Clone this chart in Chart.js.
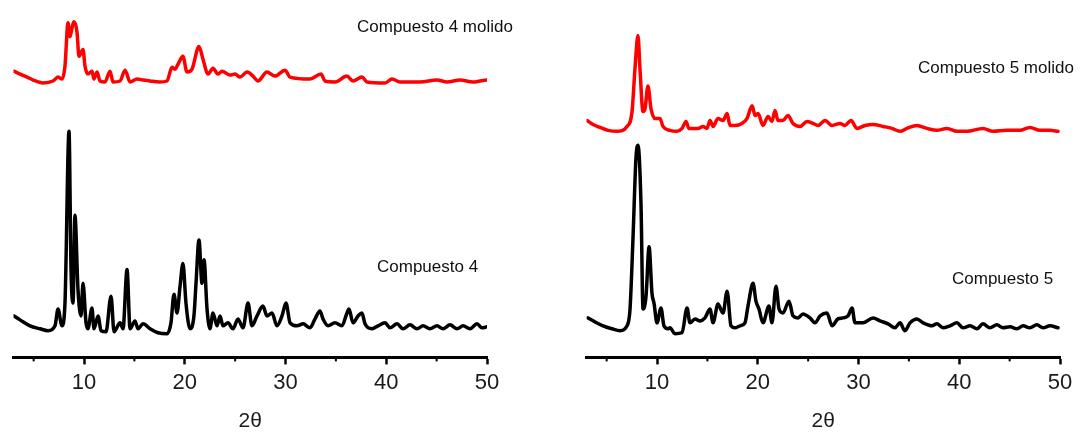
<!DOCTYPE html>
<html>
<head>
<meta charset="utf-8">
<script src="https://cdn.jsdelivr.net/npm/chart.js@4.4.0/dist/chart.umd.min.js"></script>
<style>
  html, body { margin: 0; padding: 0; background: #fff; }
  #wrap { position: relative; width: 1081px; height: 435px; overflow: hidden; }
  canvas { position: absolute; top: 0; }
  #left { left: 0; }
  #right { left: 560px; }
  .lbl { position: absolute; font-family: "Liberation Sans", Arial, sans-serif; font-size: 17px; line-height: 17px; color: #111; white-space: nowrap; }
</style>
</head>
<body>
<div id="wrap">
  <canvas id="left" width="540" height="435"></canvas>
  <canvas id="right" width="521" height="435"></canvas>
  <div class="lbl" style="left:357px; top:18px">Compuesto 4 molido</div>
  <div class="lbl" style="left:377px; top:258px">Compuesto 4</div>
  <div class="lbl" style="left:918px; top:59px">Compuesto 5 molido</div>
  <div class="lbl" style="left:952px; top:270px">Compuesto 5</div>
</div>
<script>
// 2-theta axis
const xMin = 3;
const xMax = 50;
const majorTicks = [10, 20, 30, 40, 50];
const minorTicks = [5, 15, 25, 35, 45];

// intensities are stacked (arbitrary units)

// Compuesto 4 molido (red)
const c4mTheta = [3.05, 3.65, 4.34, 4.94, 5.93, 6.92, 7.42, 7.81, 8.11, 8.41, 8.61, 8.81, 9.00, 9.30, 9.50, 9.90, 10.10, 10.39, 10.79, 10.99, 11.29, 11.59, 12.08, 12.58, 12.88, 13.58, 14.07, 14.57, 15.26, 15.86, 16.55, 17.54, 18.24, 18.73, 19.03, 19.33, 19.82, 20.22, 20.72, 21.41, 21.81, 22.31, 22.80, 23.30, 23.70, 24.49, 24.99, 25.48, 26.18, 26.77, 27.27, 28.16, 28.96, 29.95, 30.45, 32.43, 33.53, 33.92, 34.91, 36.10, 36.70, 37.59, 38.09, 39.88, 40.57, 41.37, 43.35, 45.04, 46.03, 47.32, 48.61, 49.31, 50.0];
const c4mInt = [290, 287, 284, 281, 278, 280, 284, 282, 295, 339, 325, 334, 340, 330, 305, 312, 295, 287, 290, 282, 289, 280, 279, 290, 279, 280, 291, 279, 282, 281, 280, 279, 280, 294, 292, 297, 305, 289, 292, 315, 302, 287, 293, 287, 290, 286, 287, 284, 289, 285, 280, 289, 285, 291, 284, 282, 287, 280, 279, 285, 280, 284, 279, 278, 282, 279, 279, 281, 279, 281, 279, 280, 281];

// Compuesto 4 (black)
const c4Theta = [3.05, 3.65, 4.64, 5.63, 6.42, 7.12, 7.42, 7.81, 8.11, 8.51, 8.71, 8.91, 9.10, 9.40, 9.70, 9.90, 10.20, 10.39, 10.79, 10.99, 11.39, 11.69, 12.18, 12.68, 12.98, 13.58, 13.87, 14.27, 14.57, 15.06, 15.36, 15.86, 16.55, 17.34, 18.24, 18.63, 18.93, 19.23, 19.53, 19.82, 20.12, 20.52, 20.91, 21.11, 21.41, 21.71, 21.91, 22.21, 22.50, 22.80, 23.20, 23.50, 23.79, 24.29, 24.79, 25.28, 25.78, 26.28, 26.67, 27.17, 27.76, 28.16, 28.66, 29.15, 29.65, 30.05, 30.45, 31.14, 31.74, 32.43, 32.93, 33.42, 33.72, 34.22, 34.91, 35.60, 36.10, 36.30, 36.70, 37.20, 37.59, 37.89, 38.59, 39.18, 39.88, 40.37, 41.07, 41.66, 42.36, 43.05, 43.65, 44.34, 45.04, 45.63, 46.33, 47.03, 47.62, 48.32, 49.01, 49.50, 50.0];
const c4Int = [42, 38, 32, 29, 27, 32, 49, 32, 55, 229, 89, 55, 144, 69, 42, 75, 35, 29, 50, 29, 42, 27, 26, 62, 26, 35, 29, 89, 29, 37, 29, 34, 29, 25, 24, 35, 64, 45, 72, 95, 55, 29, 42, 74, 119, 75, 99, 49, 29, 45, 32, 42, 32, 35, 29, 39, 30, 55, 32, 42, 52, 42, 45, 32, 42, 55, 35, 32, 34, 30, 39, 47, 39, 32, 35, 32, 45, 49, 35, 42, 45, 34, 29, 32, 35, 30, 34, 29, 33, 29, 32, 29, 32, 29, 33, 29, 32, 29, 34, 30, 31];

// Compuesto 5 molido (red)
const c5mTheta = [3.05, 3.65, 4.34, 5.13, 6.03, 7.02, 7.52, 7.81, 8.11, 8.31, 8.61, 8.81, 9.10, 9.40, 9.80, 10.29, 10.59, 11.29, 11.98, 12.48, 12.88, 13.17, 13.77, 14.07, 14.56, 14.96, 15.26, 15.56, 16.05, 16.55, 16.96, 17.24, 17.74, 18.43, 18.93, 19.44, 19.74, 20.03, 20.52, 21.02, 21.41, 21.71, 22.01, 22.50, 23.00, 23.50, 24.19, 24.89, 25.48, 25.98, 26.68, 27.37, 28.17, 28.66, 29.26, 29.85, 30.65, 31.44, 32.43, 33.32, 34.12, 34.81, 35.80, 36.79, 37.78, 38.78, 39.77, 40.76, 42.35, 43.34, 44.73, 46.02, 47.01, 48.01, 49.00, 49.80];
const c5mInt = [240, 236, 233, 230, 229, 234, 249, 292, 326, 292, 249, 252, 275, 252, 242, 242, 234, 230, 229, 232, 239, 232, 232, 232, 234, 232, 240, 234, 242, 240, 247, 235, 235, 237, 242, 255, 245, 247, 235, 244, 239, 250, 240, 240, 245, 237, 234, 239, 237, 235, 240, 235, 237, 235, 240, 232, 235, 236, 234, 232, 229, 232, 235, 232, 230, 232, 229, 229, 232, 229, 230, 230, 233, 230, 230, 229];

// Compuesto 5 (black)
const c5Theta = [3.15, 3.84, 4.64, 5.53, 6.33, 7.02, 7.32, 7.62, 7.91, 8.11, 8.41, 8.61, 8.91, 9.21, 9.50, 9.70, 10.00, 10.39, 10.69, 11.09, 11.29, 11.78, 12.48, 12.98, 13.27, 13.77, 14.27, 14.76, 15.26, 15.56, 16.05, 16.55, 16.96, 17.34, 17.74, 18.24, 18.73, 19.03, 19.53, 19.82, 20.12, 20.52, 21.11, 21.41, 21.81, 22.11, 22.50, 23.10, 23.50, 23.99, 24.49, 25.18, 25.68, 26.18, 26.87, 27.37, 27.96, 28.46, 28.96, 29.36, 29.65, 30.45, 31.44, 32.14, 32.93, 33.62, 34.12, 34.61, 35.11, 35.80, 36.40, 37.29, 37.78, 38.38, 39.08, 39.77, 40.37, 41.07, 41.76, 42.35, 43.05, 43.74, 44.34, 45.04, 45.73, 46.33, 47.01, 47.71, 48.31, 49.00, 49.80];
const c5Int = [40, 36, 32, 29, 27, 32, 49, 122, 202, 215, 155, 49, 62, 112, 65, 55, 35, 50, 32, 29, 30, 24, 25, 50, 35, 39, 37, 40, 49, 35, 54, 45, 67, 32, 30, 32, 35, 52, 75, 57, 49, 35, 52, 35, 72, 49, 45, 57, 42, 40, 44, 40, 35, 42, 45, 32, 39, 40, 42, 50, 35, 35, 40, 37, 34, 30, 35, 27, 35, 39, 35, 32, 34, 30, 32, 35, 30, 32, 29, 34, 30, 33, 30, 31, 29, 32, 30, 33, 30, 32, 30];

const font = '"Liberation Sans", Arial, sans-serif';

const toPoints = (xs, ys) => xs.map((x, i) => ({ x: x, y: ys[i] }));

// short unlabeled ticks halfway between the numbered ones
const minorTickPlugin = {
  id: 'minorTicks',
  afterDraw(chart) {
    const scale = chart.scales.x;
    const ctx = chart.ctx;
    ctx.save();
    ctx.strokeStyle = '#000';
    ctx.lineWidth = 2;
    minorTicks.forEach((v) => {
      const px = scale.getPixelForValue(v);
      ctx.beginPath();
      ctx.moveTo(px, scale.top);
      ctx.lineTo(px, scale.top + 4);
      ctx.stroke();
    });
    ctx.restore();
  },
};

function makeChart(id, series, padLeft, padRight) {
  return new Chart(document.getElementById(id), {
    type: 'line',
    data: {
      datasets: series.map((s) => ({
        data: toPoints(s.x, s.y),
        borderColor: s.color,
        borderWidth: 3.5,
        pointRadius: 0,
        cubicInterpolationMode: 'monotone',
        borderJoinStyle: 'round',
        borderCapStyle: 'round',
        fill: false,
      })),
    },
    options: {
      responsive: false,
      animation: false,
      events: [],
      layout: { padding: { left: padLeft, right: padRight, top: 5, bottom: 0 } },
      plugins: { legend: { display: false }, tooltip: { enabled: false } },
      scales: {
        x: {
          type: 'linear',
          min: xMin,
          max: xMax,
          afterBuildTicks: (axis) => {
            axis.ticks = majorTicks.map((v) => ({ value: v }));
          },
          border: { display: true, color: '#000', width: 3 },
          grid: { drawOnChartArea: false, drawTicks: true, tickLength: 7, tickWidth: 2.5, tickColor: '#000' },
          ticks: { color: '#1a1a1a', padding: 5, maxRotation: 0, font: { family: font, size: 22 } },
          title: { display: true, text: '2θ', color: '#1a1a1a', padding: { top: 8, bottom: 1 }, font: { family: font, size: 21 } },
        },
        y: { display: false, min: 0, max: 357 },
      },
    },
    plugins: [minorTickPlugin],
  });
}

makeChart('left', [
  { x: c4mTheta, y: c4mInt, color: '#ff0000' },
  { x: c4Theta, y: c4Int, color: '#000000' },
], 13.5, 53);

makeChart('right', [
  { x: c5mTheta, y: c5mInt, color: '#ff0000' },
  { x: c5Theta, y: c5Int, color: '#000000' },
], 26.5, 21);
</script>
</body>
</html>
